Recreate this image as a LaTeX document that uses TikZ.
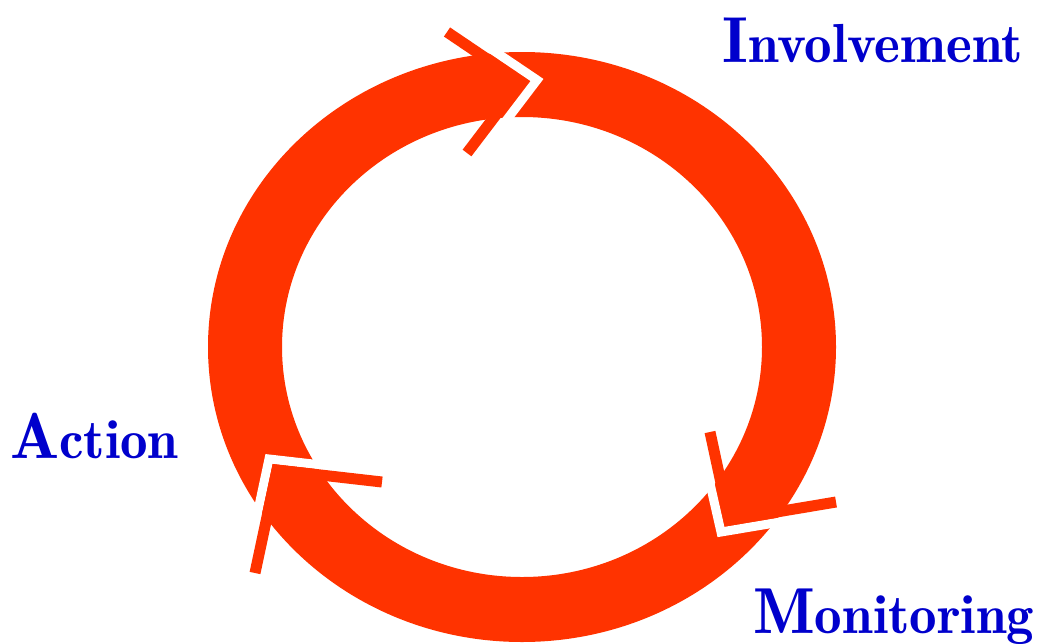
\documentclass[tikz,border=0pt]{standalone}
\usepackage{tikz}
\usetikzlibrary{positioning,calc}
\definecolor{cyclered}{HTML}{FF3300}
\definecolor{cycleblue}{HTML}{0000CC}
\newcommand{\capword}[2]{{\fontsize{65}{65}\selectfont #1}{\fontsize{55}{55}\selectfont #2}}

\begin{document}
\begin{tikzpicture}[
  x=1pt, y=-1pt,
  barb/.style={draw=cyclered, line width=11pt, line join=miter},
  gap/.style={draw=white, line width=9pt, line join=miter},
  lbl/.style={text=cycleblue, inner sep=0pt, anchor=base west, font=\fontseries{b}\selectfont}
]
\useasboundingbox (0,0) rectangle (1044,643);
% ring
\fill[cyclered, even odd rule] (522,347) ellipse [x radius=314, y radius=295]
                               (522,347) ellipse [x radius=240, y radius=230];
% arrow heads: white cut, then red chevron
\draw[gap]  (463,30) -- (537,80) -- (483,151);
\draw[barb] (447,32) -- (521,82) -- (467,153);
\draw[gap]  (701,444) -- (721,532) -- (828,514);
\draw[barb] (710,432) -- (729,520) -- (836,502);
\draw[gap]  (374,471) -- (269,459) -- (247,562);
\draw[barb] (382,482) -- (277,470) -- (255,573);
% labels
\node[lbl] (inv) at (722,62) {\capword{I}{nvolvement}};
\node[lbl] (act) at (10,458) {\capword{A}{ction}};
\node[lbl] (mon) at (753,633) {\capword{M}{onitoring}};
\end{tikzpicture}
\end{document}
